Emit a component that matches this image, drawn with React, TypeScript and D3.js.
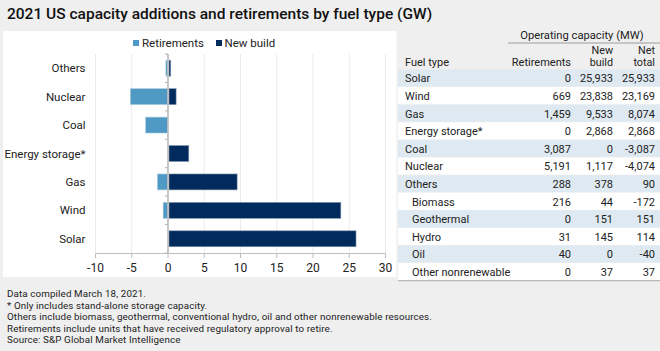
import React from 'react';
import * as d3 from 'd3';

const tableFuel = ['Solar', 'Wind', 'Gas', 'Energy storage*', 'Coal', 'Nuclear', 'Others', 'Biomass', 'Geothermal', 'Hydro', 'Oil', 'Other nonrenewable'];
const tableRetirements = [0, 669, 1459, 0, 3087, 5191, 288, 216, 0, 31, 40, 0];
const tableNewBuild = [25933, 23838, 9533, 2868, 0, 1117, 378, 44, 151, 145, 0, 37];
const tableNet = [25933, 23169, 8074, 2868, -3087, -4074, 90, -172, 151, 114, -40, 37];
const subItems = ['Biomass', 'Geothermal', 'Hydro', 'Oil', 'Other nonrenewable'];

const chartCategories = ['Others', 'Nuclear', 'Coal', 'Energy storage*', 'Gas', 'Wind', 'Solar'];
const xTicks = [-10, -5, 0, 5, 10, 15, 20, 25, 30];

const title = '2021 US capacity additions and retirements by fuel type (GW)';
const footnotes = [
  'Data compiled March 18, 2021.',
  '* Only includes stand-alone storage capacity.',
  'Others include biomass, geothermal, conventional hydro, oil and other nonrenewable resources.',
  'Retirements include units that have received regulatory approval to retire.',
  'Source: S&P Global Market Intelligence',
];

const RET = '#4f9ac4';
const NEW = '#002b5c';
const FONT = 'Roboto, "Noto Sans", sans-serif';
const fmt = (v: number) => (v < 0 ? '-' : '') + d3.format(',')(Math.abs(v));

export default function App() {
  const x = d3.scaleLinear().domain([-10, 30]).range([95.5, 385.5]);
  const y = d3.scaleBand().domain(chartCategories).range([54, 253]).paddingInner(0.44).paddingOuter(0.22);
  const bandStep = 199 / chartCategories.length;
  const retGW = chartCategories.map((c) => -tableRetirements[tableFuel.indexOf(c)] / 1000);
  const newGW = chartCategories.map((c) => tableNewBuild[tableFuel.indexOf(c)] / 1000);

  const rowH = 17.6;
  const rowTop = 69.5;
  const colFuel = 405;
  const colRet = 571;
  const colNew = 613;
  const colNet = 655;

  return (
    <svg width={660} height={351} style={{ position: 'absolute', left: 0, top: 0 }} fontFamily={FONT}>
      <rect x={0} y={0} width={660} height={351} fill="#efefef" />
      <text x={7} y={19} fontSize={15.5} fontWeight={500} fill="#111">{title}</text>

      {/* chart panel */}
      <rect x={3} y={31} width={393.5} height={246} fill="#fff" />
      {/* legend */}
      <rect x={133} y={40} width={6} height={6} fill={RET} />
      <text x={142} y={47} fontSize={11.5} fill="#222">Retirements</text>
      <rect x={216} y={40} width={6} height={6} fill={NEW} />
      <text x={224.5} y={47} fontSize={11.5} fill="#222">New build</text>

      {/* gridlines */}
      {xTicks.filter((t) => t !== 0).map((t) => (
        <line key={t} x1={x(t)} x2={x(t)} y1={54} y2={253} stroke="#ebebeb" strokeWidth={1} />
      ))}
      {/* bars */}
      {chartCategories.map((c, i) => (
        <g key={c}>
          {retGW[i] < 0 && (
            <rect x={x(retGW[i])} y={y(c)!} width={x(0) - x(retGW[i]) - 0.5} height={y.bandwidth()} fill={RET} stroke="#a9cbe0" strokeWidth={0.6} />
          )}
          {newGW[i] > 0 && (
            <rect x={x(0) + 1} y={y(c)!} width={x(newGW[i]) - x(0) - 1} height={y.bandwidth()} fill={NEW} stroke="#7f95ad" strokeWidth={0.6} />
          )}
          <text x={85.5} y={y(c)! + y.bandwidth() / 2 + 4} fontSize={11.5} textAnchor="end" fill="#222">{c}</text>
        </g>
      ))}
      {/* zero line and its ticks */}
      <line x1={x(0)} x2={x(0)} y1={54} y2={253} stroke="#b5b5b5" strokeWidth={1.5} />
      {d3.range(chartCategories.length + 1).map((k) => (
        <line key={k} x1={x(0) - 3} x2={x(0)} y1={54 + k * bandStep} y2={54 + k * bandStep} stroke="#b5b5b5" strokeWidth={1} />
      ))}
      {/* x axis */}
      <line x1={x(-10)} x2={x(30)} y1={253.5} y2={253.5} stroke="#bdbdbd" strokeWidth={1} />
      {xTicks.map((t) => (
        <g key={t}>
          <line x1={x(t)} x2={x(t)} y1={253.5} y2={258} stroke="#bdbdbd" strokeWidth={1} />
          <text x={x(t)} y={272} fontSize={12} textAnchor="middle" fill="#222">{fmt(t)}</text>
        </g>
      ))}

      {/* table */}
      <rect x={398} y={31} width={262} height={38.5} fill="#efefef" />
      <text x={(508 + 656) / 2} y={39} fontSize={11.2} textAnchor="middle" fill="#222">Operating capacity (MW)</text>
      <line x1={508} x2={660} y1={43} y2={43} stroke="#888" strokeWidth={0.8} />
      <text x={colNew} y={53.5} fontSize={10.8} textAnchor="end" fill="#222">New</text>
      <text x={colNet} y={53.5} fontSize={10.8} textAnchor="end" fill="#222">Net</text>
      <text x={colFuel} y={66} fontSize={11} fill="#222">Fuel type</text>
      <text x={colRet} y={66} fontSize={11} textAnchor="end" fill="#222">Retirements</text>
      <text x={colNew} y={66} fontSize={10.8} textAnchor="end" fill="#222">build</text>
      <text x={colNet} y={66} fontSize={10.8} textAnchor="end" fill="#222">total</text>
      {tableFuel.map((f, i) => {
        const top = rowTop + i * rowH;
        const ty = top + rowH / 2 + 4;
        const isSub = subItems.includes(f);
        return (
          <g key={f}>
            <rect x={398} y={top} width={262} height={rowH - 0.5} fill={i % 2 === 0 ? '#dfe9f1' : '#ffffff'} />
            <text x={isSub ? colFuel + 7 : colFuel} y={ty} fontSize={11} fill="#222">{f}</text>
            <text x={colRet} y={ty} fontSize={11} textAnchor="end" fill="#222">{fmt(tableRetirements[i])}</text>
            <text x={colNew} y={ty} fontSize={11} textAnchor="end" fill="#222">{fmt(tableNewBuild[i])}</text>
            <text x={colNet} y={ty} fontSize={11} textAnchor="end" fill="#222">{fmt(tableNet[i])}</text>
          </g>
        );
      })}
      <line x1={398} x2={660} y1={rowTop + tableFuel.length * rowH} y2={rowTop + tableFuel.length * rowH} stroke="#999" strokeWidth={0.8} />

      {/* footnotes */}
      {footnotes.map((t, i) => (
        <text key={i} x={7} y={297 + i * 11.6} fontSize={9.8} letterSpacing={0.12} fill="#222">{t}</text>
      ))}
    </svg>
  );
}
